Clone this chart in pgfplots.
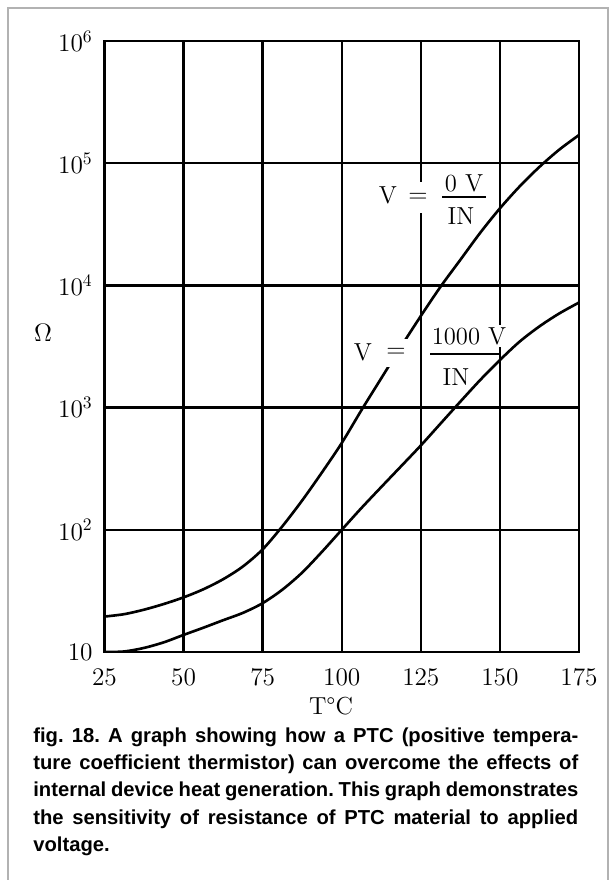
\documentclass[border=0pt]{standalone}
\usepackage{fontspec}
\usepackage{pgfplots}
\pgfplotsset{compat=1.18}
\newfontfamily\capfont{Liberation Sans}

% resistance of a PTC vs temperature, two applied voltages
\pgfplotstableread{
T      R
25     19.5
31.25  20.4
37.5   22.2
43.75  24.7
50     28.0
56.25  32.6
62.5   39.4
68.75  50.1
75     69.2
81.25  107
87.5   174
93.75  295
100    513
106.25 955
112.5  1740
118.75 3160
125    5620
131.25 9770
137.5  16200
143.75 26900
150    42700
156.25 64600
162.5  93300
168.75 129000
175    170000
}\zeroV
\pgfplotstableread{
T      R
25     10
31.25  10.1
37.5   10.8
43.75  12.0
50     13.8
56.25  15.8
62.5   18.2
68.75  20.9
75     25.1
81.25  32.4
87.5   44.7
93.75  66.1
100    100
106.25 151
112.5  224
118.75 331
125    490
131.25 741
137.5  1120
143.75 1680
150    2450
156.25 3470
162.5  4620
168.75 5890
175    7240
}\thousandV

\begin{document}
\begin{tikzpicture}
\useasboundingbox (0,0) rectangle (12.2,17.6);
\draw[gray!60, line width=0.8pt] (0.16,-1) -- (0.16,17.44) -- (12.16,17.44) -- (12.16,-1);

\begin{axis}[
    scale only axis,
    width=9.49cm, height=12.22cm,
    at={(2.09cm,4.56cm)}, anchor=south west,
    xmin=25, xmax=175,
    ymode=log, ymin=10, ymax=1e6,
    xtick={25,50,75,100,125,150,175},
    ytick={10,100,1000,10000,100000,1000000},
    yticklabels={$10$,$10^2$,$10^3$,$10^4$,$10^5$,$10^6$},
    grid=major,
    major grid style={black, line width=1.4pt},
    axis line style={line width=1.6pt},
    major tick length=0pt, minor tick length=0pt,
    tick style={draw=none},
    tick label style={font=\fontsize{14}{16}\selectfont},
    xticklabel style={anchor=base, inner sep=0pt, yshift=-0.67cm},
    yticklabel style={anchor=east, inner sep=0pt, xshift=-0.23cm},
]
\addplot[black, line width=1.5pt, smooth] table[x=T, y=R] {\zeroV};
\addplot[black, line width=1.5pt, smooth] table[x=T, y=R] {\thousandV};
\end{axis}

\begin{scope}[every node/.style={font=\fontsize{14}{16}\selectfont}]
% V = 0 V / IN
\node at (7.76,13.70) {V};
\node[fill=white, inner xsep=1.5pt, minimum height=0.62cm] at (8.36,13.64) {$=$};
\node at (9.28,13.94) {0 V};
\draw[line width=1pt] (8.84,13.66) -- (9.72,13.66);
\node at (9.22,13.28) {IN};
% V = 1000 V / IN
\node at (7.26,10.56) {V};
\node[fill=white, inner xsep=1.5pt, minimum height=0.55cm] at (7.92,10.54) {$=$};
\node[fill=white, inner sep=1.5pt] at (9.38,10.88) {1000 V};
\draw[line width=1pt] (8.60,10.52) -- (10.0,10.52);
\node at (9.12,10.06) {IN};
% axis titles
\node at (0.86,10.94) {$\Omega$};
\node at (6.62,3.48) {T\textdegree C};
\end{scope}

\begin{scope}[every node/.style={anchor=base west, inner sep=0pt,
    font=\capfont\bfseries\fontsize{11.5}{14}\selectfont\frenchspacing}]
\node at (0.66,2.74) {\makebox[10.9cm][s]{fig. 18. A graph showing how a PTC (positive tempera-}};
\node at (0.66,2.20) {\makebox[10.9cm][s]{ture coefficient thermistor) can overcome the effects of}};
\node at (0.66,1.66) {\makebox[10.9cm][s]{internal device heat generation. This graph demonstrates}};
\node at (0.66,1.12) {\makebox[10.9cm][s]{the sensitivity of resistance of PTC material to applied}};
\node at (0.66,0.58) {voltage.};
\end{scope}
\end{tikzpicture}
\end{document}
